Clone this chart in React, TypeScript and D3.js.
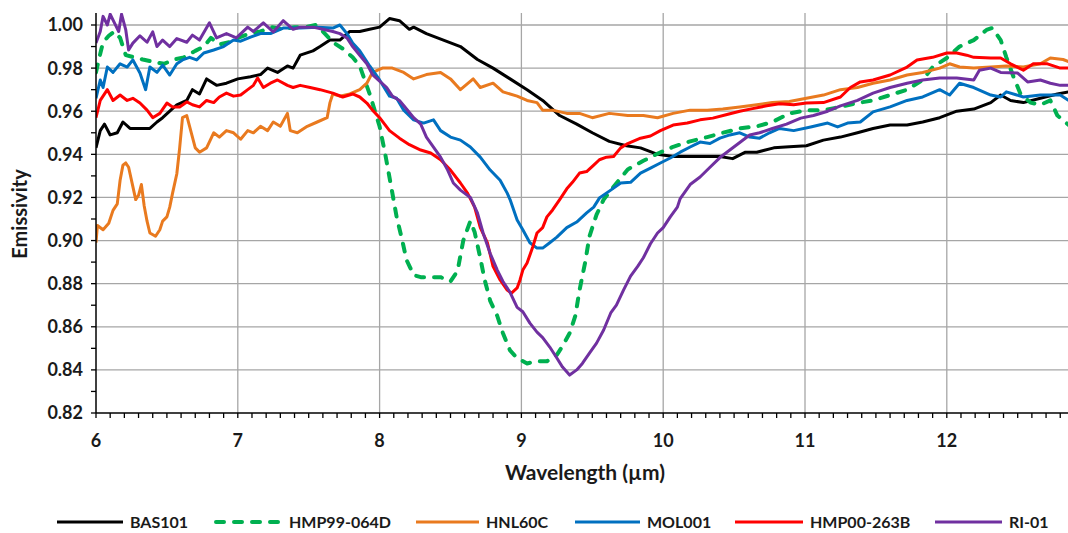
import React from 'react';
import * as d3 from 'd3';

type P = [number, number];

const xTicks = [6, 7, 8, 9, 10, 11, 12];
const yTicks = [0.82, 0.84, 0.86, 0.88, 0.90, 0.92, 0.94, 0.96, 0.98, 1.00];
const seriesNames = ['BAS101', 'HMP99-064D', 'HNL60C', 'MOL001', 'HMP00-263B', 'RI-01'];
const seriesColors = ['#000000', '#00B050', '#E97A1F', '#0070C0', '#FF0000', '#7030A0'];

const bas101: P[] = [[6.00,0.943],[6.03,0.951],[6.06,0.954],[6.10,0.949],[6.15,0.950],[6.19,0.955],[6.24,0.952],[6.31,0.952],[6.38,0.952],[6.43,0.955],[6.47,0.957],[6.52,0.960],[6.57,0.963],[6.64,0.965],[6.68,0.970],[6.73,0.968],[6.78,0.975],[6.85,0.972],[6.92,0.973],[7.00,0.975],[7.09,0.976],[7.16,0.977],[7.21,0.980],[7.28,0.978],[7.35,0.981],[7.39,0.980],[7.44,0.986],[7.53,0.988],[7.58,0.990],[7.65,0.993],[7.72,0.993],[7.79,0.997],[7.86,0.997],[7.93,0.998],[8.00,0.999],[8.07,1.003],[8.14,1.002],[8.21,0.998],[8.24,0.999],[8.33,0.996],[8.45,0.993],[8.57,0.990],[8.69,0.984],[8.80,0.980],[8.92,0.975],[9.04,0.970],[9.15,0.965],[9.27,0.958],[9.39,0.954],[9.50,0.950],[9.62,0.946],[9.74,0.944],[9.84,0.943],[9.96,0.940],[10.07,0.939],[10.20,0.939],[10.31,0.939],[10.40,0.939],[10.49,0.938],[10.58,0.941],[10.66,0.941],[10.78,0.943],[10.89,0.9435],[11.01,0.944],[11.13,0.9466],[11.25,0.948],[11.37,0.950],[11.48,0.952],[11.60,0.9536],[11.72,0.9536],[11.83,0.955],[11.95,0.957],[12.07,0.960],[12.19,0.961],[12.31,0.964],[12.38,0.9675],[12.45,0.965],[12.54,0.964],[12.66,0.966],[12.78,0.968],[12.86,0.969]];

const hmp99: P[] = [[6.00,0.978],[6.02,0.984],[6.05,0.992],[6.09,0.995],[6.13,0.997],[6.17,0.994],[6.21,0.986],[6.27,0.985],[6.33,0.984],[6.40,0.983],[6.48,0.982],[6.55,0.984],[6.62,0.985],[6.70,0.988],[6.76,0.990],[6.81,0.994],[6.87,0.991],[6.94,0.992],[7.00,0.994],[7.08,0.996],[7.16,0.997],[7.24,0.999],[7.32,0.998],[7.40,0.999],[7.48,0.999],[7.55,1.000],[7.60,0.997],[7.67,0.992],[7.74,0.989],[7.81,0.985],[7.86,0.981],[7.93,0.968],[8.00,0.953],[8.04,0.940],[8.09,0.922],[8.12,0.911],[8.16,0.900],[8.19,0.891],[8.24,0.884],[8.29,0.883],[8.36,0.883],[8.43,0.883],[8.50,0.881],[8.55,0.886],[8.59,0.900],[8.64,0.909],[8.67,0.904],[8.71,0.892],[8.74,0.882],[8.78,0.872],[8.83,0.865],[8.87,0.857],[8.92,0.849],[8.97,0.8455],[9.04,0.843],[9.11,0.844],[9.18,0.844],[9.25,0.847],[9.29,0.851],[9.34,0.857],[9.38,0.865],[9.41,0.877],[9.45,0.890],[9.48,0.902],[9.53,0.912],[9.58,0.919],[9.65,0.925],[9.75,0.933],[9.86,0.937],[9.97,0.9406],[10.07,0.9435],[10.19,0.946],[10.31,0.948],[10.42,0.950],[10.54,0.952],[10.66,0.953],[10.77,0.955],[10.89,0.959],[11.01,0.9605],[11.13,0.9605],[11.25,0.962],[11.37,0.9638],[11.48,0.965],[11.60,0.9675],[11.72,0.970],[11.83,0.9745],[11.90,0.9805],[12.00,0.9847],[12.09,0.990],[12.19,0.993],[12.28,0.9977],[12.32,0.9986],[12.38,0.993],[12.42,0.985],[12.47,0.976],[12.52,0.968],[12.59,0.964],[12.66,0.963],[12.73,0.965],[12.78,0.958],[12.86,0.9536]];

const hnl60c: P[] = [[6.00,0.899],[6.01,0.907],[6.05,0.905],[6.09,0.908],[6.12,0.914],[6.15,0.917],[6.17,0.928],[6.19,0.935],[6.21,0.936],[6.23,0.934],[6.26,0.925],[6.28,0.919],[6.30,0.921],[6.32,0.926],[6.34,0.916],[6.36,0.909],[6.38,0.9035],[6.42,0.902],[6.45,0.905],[6.47,0.909],[6.50,0.911],[6.52,0.9155],[6.54,0.922],[6.57,0.931],[6.59,0.943],[6.61,0.957],[6.64,0.958],[6.66,0.953],[6.70,0.943],[6.73,0.941],[6.78,0.943],[6.83,0.950],[6.87,0.948],[6.92,0.951],[6.97,0.950],[7.02,0.947],[7.07,0.951],[7.11,0.950],[7.16,0.953],[7.21,0.951],[7.25,0.955],[7.30,0.953],[7.35,0.959],[7.37,0.951],[7.42,0.950],[7.49,0.953],[7.56,0.955],[7.63,0.957],[7.65,0.964],[7.67,0.968],[7.72,0.967],[7.79,0.968],[7.86,0.970],[7.91,0.973],[7.95,0.978],[8.02,0.980],[8.09,0.980],[8.17,0.978],[8.24,0.975],[8.33,0.977],[8.43,0.978],[8.50,0.975],[8.57,0.970],[8.66,0.975],[8.71,0.971],[8.80,0.973],[8.87,0.969],[8.97,0.967],[9.04,0.965],[9.11,0.964],[9.15,0.9605],[9.22,0.9605],[9.32,0.959],[9.41,0.959],[9.50,0.957],[9.62,0.959],[9.75,0.958],[9.86,0.958],[9.96,0.957],[10.07,0.959],[10.19,0.9605],[10.31,0.9605],[10.42,0.961],[10.54,0.962],[10.66,0.963],[10.77,0.964],[10.89,0.9645],[11.01,0.966],[11.13,0.9675],[11.25,0.970],[11.37,0.971],[11.48,0.973],[11.60,0.9745],[11.72,0.9768],[11.83,0.978],[11.95,0.980],[12.02,0.982],[12.09,0.9805],[12.19,0.980],[12.31,0.9805],[12.42,0.981],[12.54,0.9805],[12.66,0.982],[12.73,0.9847],[12.82,0.984],[12.86,0.983]];

const mol001: P[] = [[6.00,0.966],[6.03,0.9745],[6.05,0.971],[6.08,0.9805],[6.12,0.978],[6.17,0.982],[6.22,0.9805],[6.26,0.9838],[6.31,0.9777],[6.35,0.970],[6.38,0.9805],[6.43,0.978],[6.47,0.9814],[6.52,0.9768],[6.57,0.982],[6.61,0.9838],[6.66,0.985],[6.71,0.9838],[6.76,0.987],[6.83,0.9884],[6.90,0.990],[6.97,0.993],[7.02,0.9925],[7.09,0.9944],[7.16,0.996],[7.23,0.996],[7.32,0.9986],[7.44,0.9986],[7.56,0.999],[7.67,0.9986],[7.72,1.000],[7.77,0.996],[7.81,0.9916],[7.86,0.988],[7.93,0.981],[8.00,0.9745],[8.07,0.967],[8.12,0.966],[8.17,0.9605],[8.24,0.956],[8.31,0.9545],[8.38,0.956],[8.43,0.951],[8.50,0.948],[8.57,0.9466],[8.64,0.9434],[8.71,0.9387],[8.78,0.9327],[8.85,0.928],[8.90,0.922],[8.92,0.919],[8.97,0.9095],[9.01,0.905],[9.06,0.899],[9.11,0.8965],[9.15,0.8965],[9.20,0.899],[9.25,0.9016],[9.32,0.906],[9.39,0.9086],[9.46,0.9128],[9.51,0.9155],[9.55,0.9197],[9.63,0.9234],[9.70,0.9267],[9.77,0.927],[9.84,0.9313],[9.91,0.9336],[9.98,0.936],[10.05,0.9383],[10.12,0.941],[10.19,0.9434],[10.26,0.9457],[10.33,0.945],[10.40,0.9475],[10.47,0.949],[10.54,0.950],[10.61,0.948],[10.68,0.9475],[10.75,0.950],[10.82,0.952],[10.92,0.951],[11.04,0.9527],[11.16,0.9545],[11.23,0.9527],[11.30,0.9545],[11.39,0.955],[11.48,0.9597],[11.60,0.962],[11.72,0.965],[11.83,0.9666],[11.95,0.970],[12.02,0.9675],[12.09,0.973],[12.19,0.971],[12.31,0.9675],[12.38,0.9666],[12.42,0.969],[12.54,0.9666],[12.66,0.9675],[12.80,0.9675],[12.86,0.965]];

const hmp00: P[] = [[6.00,0.957],[6.03,0.965],[6.08,0.970],[6.12,0.965],[6.17,0.9675],[6.22,0.965],[6.26,0.966],[6.31,0.9638],[6.36,0.9605],[6.40,0.957],[6.45,0.959],[6.50,0.9638],[6.54,0.962],[6.59,0.962],[6.64,0.9643],[6.68,0.963],[6.73,0.962],[6.78,0.965],[6.83,0.964],[6.87,0.9666],[6.92,0.9684],[6.97,0.967],[7.02,0.9675],[7.07,0.970],[7.11,0.972],[7.14,0.9754],[7.18,0.971],[7.23,0.973],[7.28,0.9745],[7.35,0.972],[7.39,0.971],[7.44,0.972],[7.51,0.971],[7.58,0.970],[7.67,0.9684],[7.74,0.9666],[7.81,0.968],[7.86,0.9666],[7.91,0.9638],[7.95,0.9605],[8.00,0.957],[8.07,0.951],[8.14,0.9475],[8.21,0.9445],[8.29,0.942],[8.36,0.9406],[8.43,0.9375],[8.50,0.9327],[8.57,0.9267],[8.62,0.922],[8.67,0.9155],[8.71,0.906],[8.76,0.899],[8.80,0.888],[8.85,0.8817],[8.90,0.877],[8.93,0.8756],[8.97,0.878],[8.99,0.8817],[9.01,0.8863],[9.04,0.8896],[9.08,0.897],[9.11,0.9035],[9.15,0.906],[9.18,0.911],[9.22,0.9142],[9.27,0.919],[9.32,0.924],[9.36,0.927],[9.41,0.9313],[9.46,0.932],[9.51,0.935],[9.55,0.9375],[9.60,0.9387],[9.65,0.939],[9.70,0.943],[9.75,0.945],[9.84,0.9475],[9.91,0.9485],[9.98,0.951],[10.07,0.9536],[10.17,0.9545],[10.26,0.956],[10.35,0.9568],[10.45,0.9585],[10.54,0.960],[10.63,0.9612],[10.73,0.9625],[10.82,0.9635],[10.92,0.963],[11.01,0.9638],[11.13,0.964],[11.25,0.9666],[11.32,0.971],[11.39,0.9736],[11.48,0.9745],[11.60,0.9768],[11.72,0.9805],[11.79,0.9838],[11.90,0.985],[12.00,0.987],[12.07,0.987],[12.14,0.986],[12.19,0.985],[12.31,0.9847],[12.38,0.9847],[12.45,0.982],[12.54,0.979],[12.61,0.982],[12.71,0.982],[12.80,0.980],[12.86,0.980]];

const ri01: P[] = [[6.00,0.9916],[6.03,0.997],[6.05,1.004],[6.08,1.000],[6.10,1.005],[6.13,1.001],[6.16,0.997],[6.18,1.005],[6.21,0.9977],[6.23,0.9884],[6.26,0.9916],[6.31,0.995],[6.36,0.992],[6.40,0.9968],[6.43,0.990],[6.47,0.993],[6.52,0.990],[6.57,0.9937],[6.64,0.992],[6.68,0.9953],[6.73,0.993],[6.80,1.001],[6.85,0.994],[6.92,0.996],[6.99,0.994],[7.07,0.999],[7.11,0.997],[7.18,1.001],[7.25,0.9968],[7.32,1.002],[7.39,0.998],[7.44,0.999],[7.53,0.999],[7.60,0.998],[7.67,0.997],[7.72,0.996],[7.77,0.994],[7.81,0.990],[7.86,0.986],[7.91,0.982],[7.95,0.977],[8.00,0.974],[8.05,0.971],[8.09,0.967],[8.14,0.965],[8.19,0.961],[8.24,0.957],[8.29,0.954],[8.33,0.948],[8.38,0.9434],[8.43,0.9387],[8.48,0.9327],[8.52,0.9267],[8.57,0.9234],[8.64,0.920],[8.69,0.9128],[8.73,0.9035],[8.78,0.894],[8.83,0.8863],[8.87,0.881],[8.92,0.876],[8.97,0.869],[9.01,0.867],[9.06,0.8617],[9.11,0.8575],[9.15,0.855],[9.20,0.8506],[9.25,0.8455],[9.29,0.8413],[9.34,0.8376],[9.39,0.840],[9.43,0.843],[9.48,0.8478],[9.53,0.8524],[9.58,0.8585],[9.63,0.8664],[9.67,0.870],[9.72,0.877],[9.77,0.8835],[9.82,0.888],[9.86,0.892],[9.91,0.8985],[9.96,0.9035],[10.00,0.906],[10.05,0.911],[10.10,0.9155],[10.12,0.9195],[10.19,0.926],[10.26,0.9295],[10.33,0.934],[10.40,0.9385],[10.47,0.942],[10.54,0.9455],[10.61,0.949],[10.68,0.950],[10.77,0.952],[10.87,0.954],[10.97,0.9568],[11.06,0.958],[11.16,0.960],[11.25,0.9625],[11.37,0.965],[11.48,0.9684],[11.60,0.971],[11.72,0.973],[11.83,0.9745],[11.95,0.9754],[12.07,0.9754],[12.19,0.9745],[12.23,0.979],[12.31,0.980],[12.38,0.978],[12.50,0.9777],[12.57,0.9736],[12.66,0.9745],[12.73,0.973],[12.80,0.972],[12.86,0.972]];

const seriesData: P[][] = [bas101, hmp99, hnl60c, mol001, hmp00, ri01];

const FONT = 'Lato, "Open Sans", sans-serif';

export default function App() {
  const W = 1068, H = 533;
  const left = 96, right = 1068, top = 13, bottom = 413;
  const x = d3.scaleLinear().domain([6, 12]).range([96, 946.8]);
  const y = d3.scaleLinear().domain([0.82, 1.0]).range([413, 25]);
  const line = d3.line<P>().x(d => x(d[0])).y(d => y(d[1])).curve(d3.curveLinear);

  const xMinor = d3.range(60, 129).map(v => v / 10);
  const yMinor = d3.range(82, 101).map(v => v / 100);

  const legendLine: [number, number][] = [[57, 123], [213, 282], [416, 479], [575, 640], [735, 803], [935, 1002]];
  const legendY = 522;

  return (
    <svg width={W} height={H} style={{ position: 'fixed', left: 0, top: 0, background: '#fff' }}>
      <defs>
        <clipPath id="plotclip">
          <rect x={left} y={top} width={right - left} height={bottom - top} />
        </clipPath>
      </defs>
      <rect x={0} y={0} width={W} height={H} fill="#fff" />
      {yTicks.filter(t => t > 0.82).map(t => (
        <line key={'gy' + t} x1={left} x2={right} y1={y(t)} y2={y(t)} stroke="#a6a6a6" strokeWidth={1.3} />
      ))}
      {xTicks.filter(t => t > 6).map(t => (
        <line key={'gx' + t} x1={x(t)} x2={x(t)} y1={top} y2={bottom} stroke="#a6a6a6" strokeWidth={1.3} />
      ))}
      <g clipPath="url(#plotclip)">
        {seriesData.map((d, i) => (
          <path key={seriesNames[i]} d={line(d) || ''} fill="none" stroke={seriesColors[i]}
            strokeWidth={i === 1 ? 4 : 3} strokeLinejoin="round"
            strokeLinecap={i === 1 ? 'round' : 'butt'}
            strokeDasharray={i === 1 ? '8,10' : undefined} />
        ))}
      </g>
      <line x1={left} x2={left} y1={top} y2={bottom} stroke="#000" strokeWidth={1.5} />
      <line x1={left} x2={right} y1={bottom} y2={bottom} stroke="#000" strokeWidth={1.5} />
      {yMinor.map(t => (
        <line key={'ty' + t} x1={left - 5} x2={left} y1={y(t)} y2={y(t)} stroke="#000" strokeWidth={1.3} />
      ))}
      {xMinor.map(t => (
        <line key={'tx' + t} x1={x(t)} x2={x(t)} y1={bottom} y2={bottom + 5} stroke="#000" strokeWidth={1.3} />
      ))}
      {yTicks.map(t => (
        <text key={'ly' + t} x={83} y={y(t)} dy="0.36em" textAnchor="end" fontFamily={FONT}
          fontWeight="bold" fontSize={18} fill="#1a1a1a">{t.toFixed(2)}</text>
      ))}
      {xTicks.map(t => (
        <text key={'lx' + t} x={x(t)} y={447} textAnchor="middle" fontFamily={FONT}
          fontWeight="bold" fontSize={18} fill="#1a1a1a">{t}</text>
      ))}
      <text x={585} y={480} textAnchor="middle" fontFamily={FONT} fontWeight="bold" fontSize={21} fill="#1a1a1a">Wavelength (µm)</text>
      <text transform="translate(27,214) rotate(-90)" textAnchor="middle" fontFamily={FONT} fontWeight="bold" fontSize={20} fill="#1a1a1a">Emissivity</text>
      {seriesNames.map((n, i) => (
        <g key={'lg' + n}>
          <line x1={legendLine[i][0] + (i === 1 ? 3 : 0)} x2={legendLine[i][1] - (i === 1 ? 2 : 0)} y1={legendY} y2={legendY}
            stroke={seriesColors[i]} strokeWidth={i === 1 ? 4 : 3}
            strokeLinecap={i === 1 ? 'round' : 'butt'} strokeDasharray={i === 1 ? '8,10' : undefined} />
          <text x={legendLine[i][1] + 7} y={legendY + 5.5} fontFamily={FONT} fontWeight="bold" fontSize={16} fill="#1a1a1a">{n}</text>
        </g>
      ))}
    </svg>
  );
}
